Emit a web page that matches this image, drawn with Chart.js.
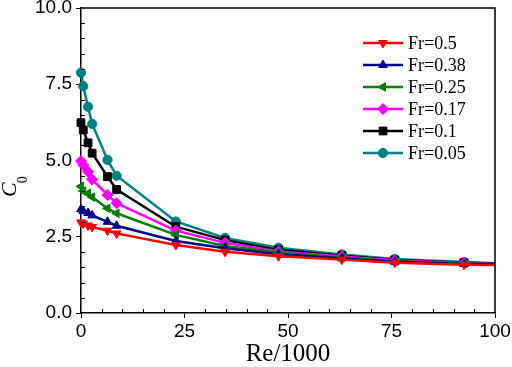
<!DOCTYPE html>
<html>
<head>
<meta charset="utf-8">
<script src="https://cdn.jsdelivr.net/npm/chart.js@4.4.1/dist/chart.umd.min.js"></script>
<style>
  html, body { margin: 0; padding: 0; background: #ffffff; }
  #wrap { width: 512px; height: 367px; }
</style>
</head>
<body>
<div id="wrap"><canvas id="c" width="512" height="367"></canvas></div>
<script>
// ---- data ----
const reValues = [0, 0.55, 1.7, 2.7, 6.4, 8.6, 22.9, 34.8, 47.7, 63.0, 75.8, 92.5, 100];
const seriesNames = ['Fr=0.5', 'Fr=0.38', 'Fr=0.25', 'Fr=0.17', 'Fr=0.1', 'Fr=0.05'];
const c0Fr050 = [2.97, 2.93, 2.87, 2.82, 2.70, 2.61, 2.23, 2.01, 1.86, 1.75, 1.65, 1.58, 1.57];
const c0Fr038 = [3.40, 3.34, 3.28, 3.20, 2.99, 2.86, 2.36, 2.12, 1.93, 1.79, 1.68, 1.61, 1.59];
const c0Fr025 = [4.15, 4.00, 3.92, 3.80, 3.43, 3.27, 2.56, 2.20, 1.98, 1.82, 1.70, 1.62, 1.60];
const c0Fr017 = [4.98, 4.85, 4.63, 4.38, 3.87, 3.60, 2.70, 2.30, 2.02, 1.85, 1.72, 1.64, 1.61];
const c0Fr010 = [6.24, 6.00, 5.58, 5.24, 4.47, 4.05, 2.83, 2.39, 2.07, 1.88, 1.74, 1.65, 1.62];
const c0Fr005 = [7.88, 7.44, 6.76, 6.20, 5.02, 4.50, 3.00, 2.46, 2.14, 1.92, 1.77, 1.67, 1.63];
const xTicks = [0, 25, 50, 75, 100];
const yTicks = [0, 2.5, 5, 7.5, 10];

// ---- styles ----
const styles = [
  { color: '#ff0000', style: 'triangle', rotation: 180, r: 5 },
  { color: '#00008b', style: 'triangle', rotation: 0, r: 5 },
  { color: '#008000', style: 'triangle', rotation: -90, r: 5 },
  { color: '#ff00ff', style: 'rectRot', rotation: 0, r: 5.5 },
  { color: '#000000', style: 'rect', rotation: 0, r: 5.5 },
  { color: '#008080', style: 'circle', rotation: 0, r: 4.6 }
];
const allSeries = [c0Fr050, c0Fr038, c0Fr025, c0Fr017, c0Fr010, c0Fr005];

const datasets = allSeries.map((vals, i) => {
  const s = styles[i];
  return {
    label: seriesNames[i],
    data: vals.map((v, k) => ({ x: reValues[k], y: v })),
    borderColor: s.color,
    backgroundColor: s.color,
    borderWidth: 2.5,
    pointStyle: s.style,
    rotation: s.rotation,
    markerRadius: s.r,
    pointRadius: (ctx) => (ctx.raw && ctx.raw.x >= 100 ? 0 : s.r),
    pointBorderWidth: 1,
    pointBackgroundColor: s.color,
    pointBorderColor: s.color,
    tension: 0,
    clip: false
  };
});

const SANS = '"Liberation Sans", Arial, sans-serif';
const SERIF = '"Liberation Serif", "Times New Roman", serif';

const decorPlugin = {
  id: 'decor',
  afterDraw(chart) {
    const ctx = chart.ctx;
    const a = chart.chartArea;
    const xs = chart.scales.x, ys = chart.scales.y;
    ctx.save();
    // frame top & right
    ctx.strokeStyle = '#000';
    ctx.lineWidth = 1.5;
    ctx.beginPath();
    ctx.moveTo(a.left, a.top);
    ctx.lineTo(a.right, a.top);
    ctx.lineTo(a.right, a.bottom);
    ctx.stroke();
    // minor ticks (inward)
    ctx.lineWidth = 1;
    ctx.beginPath();
    for (let v = 0.5; v < 10; v += 0.5) {
      if (Math.abs(v / 2.5 - Math.round(v / 2.5)) < 1e-6) continue;
      const py = Math.round(ys.getPixelForValue(v)) + 0.5;
      ctx.moveTo(a.left, py);
      ctx.lineTo(a.left + 4, py);
    }
    for (let v = 5; v < 100; v += 5) {
      if (v % 25 === 0) continue;
      const px = Math.round(xs.getPixelForValue(v)) + 0.5;
      ctx.moveTo(px, a.bottom);
      ctx.lineTo(px, a.bottom - 4);
    }
    ctx.stroke();
    // x title
    ctx.fillStyle = '#000';
    ctx.font = '25px ' + SERIF;
    ctx.textAlign = 'center';
    ctx.textBaseline = 'alphabetic';
    ctx.fillText('Re/1000', (a.left + a.right) / 2, 361);
    // y title: italic C with subscript 0, rotated
    ctx.save();
    ctx.translate(16, 197);
    ctx.rotate(-Math.PI / 2);
    ctx.font = 'italic 22px ' + SERIF;
    ctx.textAlign = 'left';
    const wC = ctx.measureText('C').width;
    ctx.fillText('C', 0, 0);
    ctx.font = '14px ' + SERIF;
    ctx.fillText('0', wC - 1, 11);
    ctx.restore();
    // legend
    const lx0 = 363, lx1 = 403, tx = 408, y0 = 43, dy = 22;
    chart.data.datasets.forEach((ds, i) => {
      const y = y0 + i * dy;
      ctx.strokeStyle = ds.borderColor;
      ctx.lineWidth = 2.5;
      ctx.beginPath();
      ctx.moveTo(lx0, y);
      ctx.lineTo(lx1, y);
      ctx.stroke();
      ctx.fillStyle = ds.borderColor;
      ctx.strokeStyle = ds.borderColor;
      ctx.lineWidth = 1;
      Chart.helpers.drawPoint(ctx, {
        pointStyle: ds.pointStyle, rotation: ds.rotation, radius: ds.markerRadius, borderWidth: 1
      }, (lx0 + lx1) / 2, y);
      ctx.fillStyle = '#000';
      ctx.font = '18px ' + SERIF;
      ctx.textAlign = 'left';
      ctx.textBaseline = 'middle';
      ctx.fillText(ds.label, tx, y + 1);
    });
    ctx.restore();
  }
};

new Chart(document.getElementById('c'), {
  type: 'line',
  data: { datasets },
  options: {
    responsive: false,
    animation: false,
    devicePixelRatio: 1,
    layout: { padding: { top: 8, right: 17, left: 0, bottom: 0 } },
    plugins: { legend: { display: false }, tooltip: { enabled: false } },
    scales: {
      x: {
        type: 'linear', min: 0, max: 100,
        afterBuildTicks: (sc) => { sc.ticks = xTicks.map(v => ({ value: v })); },
        afterFit: (sc) => { sc.height = 54; sc.paddingLeft = 0; sc.paddingRight = 0; },
        ticks: { color: '#000', font: { family: SANS, size: 19 }, padding: 2, maxRotation: 0, autoSkip: false,
                 callback: (v) => String(v) },
        grid: { drawOnChartArea: false, drawTicks: true, tickLength: 5, color: '#000', lineWidth: 1 },
        border: { display: true, color: '#000', width: 1.5 }
      },
      y: {
        type: 'linear', min: 0, max: 10,
        afterBuildTicks: (sc) => { sc.ticks = yTicks.map(v => ({ value: v })); },
        afterFit: (sc) => { sc.width = 81; sc.paddingTop = 0; sc.paddingBottom = 0; },
        ticks: { color: '#000', font: { family: SANS, size: 19 }, padding: 4, autoSkip: false,
                 callback: (v) => Number(v).toFixed(1) },
        grid: { drawOnChartArea: false, drawTicks: true, tickLength: 5, color: '#000', lineWidth: 1 },
        border: { display: true, color: '#000', width: 1.5 }
      }
    }
  },
  plugins: [decorPlugin]
});
</script>
</body>
</html>
